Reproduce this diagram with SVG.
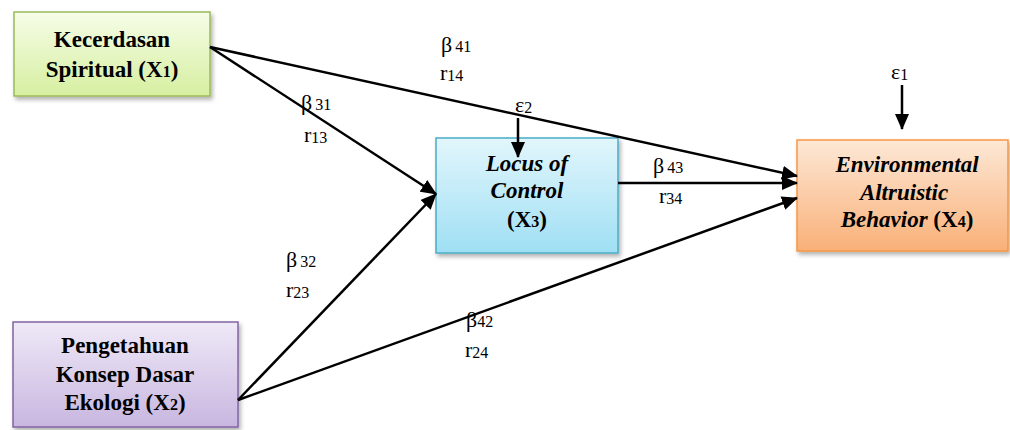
<svg xmlns="http://www.w3.org/2000/svg" width="1010" height="430" viewBox="0 0 1010 430" font-family="Liberation Serif, Times New Roman, Tinos, Nimbus Roman, DejaVu Serif, Noto Serif, serif">
<style>
text{font-family:"Liberation Serif","Times New Roman",Tinos,"Nimbus Roman","DejaVu Serif","Noto Serif",serif}
.node{font-weight:bold;font-size:23px;fill:#000;text-anchor:middle}
.it{font-style:italic}
.lbl{font-size:22px;fill:#000}
.sub{font-size:16px}
.con{stroke:#000;stroke-width:2.5;fill:none}
</style>
<defs>
<marker id="ah" markerUnits="userSpaceOnUse" markerWidth="16" markerHeight="14" refX="15" refY="7" orient="auto">
<path d="M0,0 L16,7 L0,14 z" fill="#000"/>
</marker>
<linearGradient id="gG" x1="0" y1="0" x2="0" y2="1"><stop offset="0" stop-color="#f6fde8"/><stop offset="1" stop-color="#d6efa0"/></linearGradient>
<linearGradient id="gP" x1="0" y1="0" x2="0" y2="1"><stop offset="0" stop-color="#efe9f7"/><stop offset="1" stop-color="#c8b6e0"/></linearGradient>
<linearGradient id="gB" x1="0" y1="0" x2="0" y2="1"><stop offset="0" stop-color="#e2f6fc"/><stop offset="1" stop-color="#9fdff4"/></linearGradient>
<linearGradient id="gO" x1="0" y1="0" x2="0" y2="1"><stop offset="0" stop-color="#fde8d6"/><stop offset="1" stop-color="#f9b078"/></linearGradient>
<filter id="sh" x="-10%" y="-10%" width="125%" height="130%"><feDropShadow dx="2" dy="3" stdDeviation="2" flood-color="#000" flood-opacity="0.3"/></filter>
</defs>

<g id="X1">
<rect x="14" y="12" width="196" height="84" fill="url(#gG)" stroke="#9bbb59" stroke-width="1.5" filter="url(#sh)"/>
<text class="node" x="112" y="47">Kecerdasan</text>
<text class="node" x="112" y="77">Spiritual (X<tspan font-size="16">1</tspan>)</text>
</g>

<g id="X2">
<rect x="13" y="322" width="225" height="105" fill="url(#gP)" stroke="#8064a2" stroke-width="1.5" filter="url(#sh)"/>
<text class="node" x="125" y="353">Pengetahuan</text>
<text class="node" x="125" y="382">Konsep Dasar</text>
<text class="node" x="125" y="410">Ekologi (X<tspan font-size="16">2</tspan>)</text>
</g>

<g id="X3">
<rect x="436" y="138" width="182" height="115" fill="url(#gB)" stroke="#4bacc6" stroke-width="1.5" filter="url(#sh)"/>
<text class="node it" x="527" y="171">Locus of</text>
<text class="node it" x="527" y="198">Control</text>
<text class="node" x="527" y="227">(X<tspan font-size="16">3</tspan>)</text>
</g>

<g id="X4">
<rect x="797" y="140" width="211" height="111" fill="url(#gO)" stroke="#f79646" stroke-width="1.5" filter="url(#sh)"/>
<text class="node it" x="907" y="172">Environmental</text>
<text class="node it" x="904" y="200">Altruistic</text>
<text class="node" x="907" y="227"><tspan font-style="italic">Behavior</tspan> (X<tspan font-size="16">4</tspan>)</text>
</g>

<g id="connectors">
<line class="con" x1="210" y1="47" x2="797" y2="176" marker-end="url(#ah)"/>
<line class="con" x1="210" y1="47" x2="436" y2="194" marker-end="url(#ah)"/>
<line class="con" x1="238" y1="400" x2="436" y2="194" marker-end="url(#ah)"/>
<line class="con" x1="238" y1="400" x2="797" y2="198" marker-end="url(#ah)"/>
<line class="con" x1="618" y1="183" x2="797" y2="183" marker-end="url(#ah)"/>
<line class="con" x1="518" y1="118" x2="518" y2="157" marker-end="url(#ah)"/>
<line class="con" x1="902" y1="85" x2="902" y2="129" marker-end="url(#ah)"/>
</g>

<g id="labels">
<text class="lbl" x="441" y="52">β<tspan class="sub" dx="3">41</tspan></text>
<text class="lbl" x="440" y="80">r<tspan class="sub" dy="1">14</tspan></text>
<text class="lbl" x="301" y="110">β<tspan class="sub" dx="3">31</tspan></text>
<text class="lbl" x="304" y="142">r<tspan class="sub" dy="1">13</tspan></text>
<text class="lbl" x="515" y="112">ε<tspan class="sub" dy="1">2</tspan></text>
<text class="lbl" x="286" y="267">β<tspan class="sub" dx="3">32</tspan></text>
<text class="lbl" x="286" y="297">r<tspan class="sub" dy="1">23</tspan></text>
<text class="lbl" x="466" y="327">β<tspan class="sub">42</tspan></text>
<text class="lbl" x="465" y="357">r<tspan class="sub" dy="1">24</tspan></text>
<text class="lbl" x="653" y="173">β<tspan class="sub" dx="3">43</tspan></text>
<text class="lbl" x="659" y="203">r<tspan class="sub" dy="1">34</tspan></text>
<text class="lbl" x="891" y="79">ε<tspan class="sub" dy="1">1</tspan></text>
</g>
</svg>
